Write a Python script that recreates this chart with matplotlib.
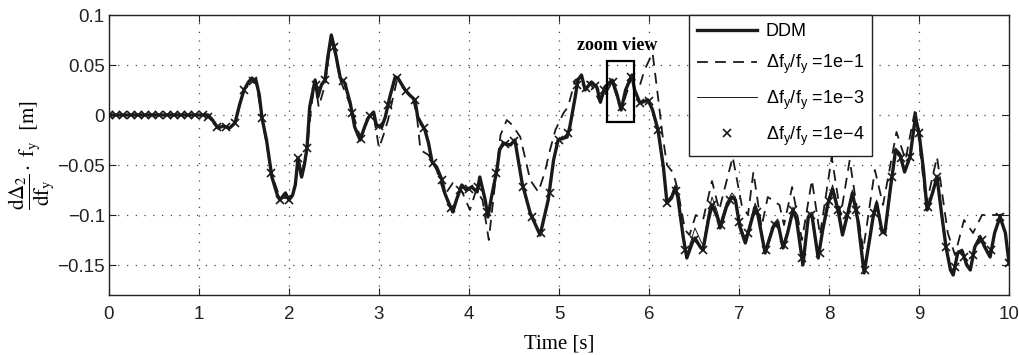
import matplotlib
matplotlib.use("Agg")
import matplotlib.pyplot as plt
from matplotlib.ticker import FuncFormatter
from matplotlib.patches import Rectangle

plt.rcParams['font.family'] = ['Liberation Sans', 'DejaVu Sans']
plt.rcParams['mathtext.fontset'] = 'custom'
plt.rcParams['mathtext.rm'] = 'Liberation Sans'
plt.rcParams['mathtext.it'] = 'Liberation Sans'

# ---- data ----
ddm_t = [0.0, 1.1, 1.15, 1.21, 1.27, 1.34, 1.4, 1.45, 1.5, 1.55, 1.59, 1.61, 1.63, 1.67, 1.7,
         1.75, 1.81, 1.87, 1.9, 1.96, 2.0, 2.04, 2.07, 2.1, 2.14, 2.17, 2.2, 2.23, 2.29, 2.32,
         2.36, 2.4, 2.43, 2.47, 2.51, 2.57, 2.62, 2.68, 2.73, 2.79, 2.84, 2.88, 2.94, 2.97, 3.03,
         3.07, 3.12, 3.18, 3.21, 3.29, 3.34, 3.4, 3.43, 3.51, 3.55, 3.59, 3.64, 3.7, 3.73, 3.77,
         3.82, 3.86, 3.92, 3.97, 4.03, 4.09, 4.12, 4.18, 4.21, 4.25, 4.31, 4.34, 4.38, 4.46, 4.51,
         4.59, 4.68, 4.79, 4.88, 4.94, 4.99, 5.09, 5.12, 5.18, 5.21, 5.25, 5.29, 5.36, 5.42, 5.46,
         5.51, 5.59, 5.64, 5.69, 5.74, 5.81, 5.84, 5.9, 5.99, 6.04, 6.1, 6.16, 6.2, 6.25, 6.29,
         6.32, 6.38, 6.42, 6.48, 6.51, 6.57, 6.6, 6.66, 6.7, 6.76, 6.79, 6.86, 6.92, 6.96, 7.01,
         7.07, 7.12, 7.18, 7.21, 7.29, 7.38, 7.43, 7.49, 7.54, 7.6, 7.64, 7.71, 7.77, 7.81, 7.88,
         7.93, 7.99, 8.04, 8.1, 8.15, 8.21, 8.26, 8.32, 8.39, 8.45, 8.49, 8.53, 8.59, 8.62, 8.68,
         8.74, 8.79, 8.84, 8.9, 8.96, 9.0, 9.05, 9.09, 9.15, 9.2, 9.25, 9.3, 9.35, 9.38, 9.43,
         9.48, 9.53, 9.57, 9.62, 9.68, 9.73, 9.79, 9.84, 9.9, 9.96, 10.0]
ddm_v = [0.0, 0.0, -0.005, -0.013, -0.011, -0.013, -0.008, 0.01, 0.025, 0.033, 0.037, 0.033, 0.036, 0.02, -0.003,
         -0.025, -0.062, -0.08, -0.085, -0.078, -0.085, -0.08, -0.07, -0.043, -0.062, -0.05, -0.033, 0.008, 0.035, 0.018,
         0.03, 0.035, 0.057, 0.08, 0.065, 0.037, 0.032, 0.012, -0.012, -0.025, -0.012, -0.003, 0.003, -0.01, -0.012,
         -0.002, 0.018, 0.038, 0.037, 0.025, 0.02, 0.015, -0.002, -0.015, -0.028, -0.047, -0.052, -0.065, -0.078, -0.087,
         -0.097, -0.085, -0.07, -0.075, -0.072, -0.077, -0.062, -0.085, -0.102, -0.082, -0.055, -0.035, -0.028, -0.03, -0.025,
         -0.068, -0.098, -0.12, -0.085, -0.045, -0.025, -0.022, -0.012, 0.018, 0.035, 0.04, 0.025, 0.033, 0.028, 0.013,
         0.028, 0.035, 0.022, 0.005, 0.025, 0.04, 0.025, 0.012, 0.015, 0.005, -0.015, -0.052, -0.088, -0.083, -0.073,
         -0.082, -0.122, -0.143, -0.128, -0.123, -0.132, -0.135, -0.105, -0.09, -0.102, -0.113, -0.092, -0.082, -0.085, -0.112,
         -0.128, -0.112, -0.092, -0.1, -0.138, -0.112, -0.107, -0.133, -0.118, -0.095, -0.105, -0.15, -0.102, -0.1, -0.143,
         -0.115, -0.088, -0.074, -0.095, -0.12, -0.098, -0.078, -0.105, -0.158, -0.125, -0.102, -0.088, -0.117, -0.118, -0.075,
         -0.035, -0.04, -0.057, -0.042, -0.002, -0.018, -0.055, -0.095, -0.078, -0.062, -0.098, -0.132, -0.155, -0.16, -0.138,
         -0.136, -0.15, -0.155, -0.132, -0.122, -0.132, -0.142, -0.118, -0.102, -0.118, -0.148]

# thin line (1e-3): follows DDM closely, slightly higher in places
thin_v = [0.0, 0.0, -0.005, -0.012, -0.011, -0.012, -0.008, 0.01, 0.025, 0.033, 0.037, 0.033, 0.036, 0.02, -0.003,
          -0.024, -0.06, -0.079, -0.084, -0.077, -0.084, -0.079, -0.07, -0.044, -0.063, -0.05, -0.033, 0.008, 0.035, 0.018,
          0.03, 0.035, 0.057, 0.079, 0.065, 0.037, 0.032, 0.012, -0.012, -0.025, -0.012, -0.003, 0.003, -0.01, -0.012,
          -0.002, 0.018, 0.038, 0.037, 0.025, 0.02, 0.015, -0.002, -0.015, -0.028, -0.047, -0.052, -0.065, -0.078, -0.087,
          -0.096, -0.084, -0.07, -0.075, -0.072, -0.077, -0.062, -0.085, -0.101, -0.082, -0.055, -0.035, -0.028, -0.03, -0.025,
          -0.068, -0.098, -0.119, -0.085, -0.045, -0.025, -0.022, -0.012, 0.018, 0.035, 0.04, 0.025, 0.033, 0.028, 0.013,
          0.028, 0.035, 0.022, 0.005, 0.025, 0.04, 0.025, 0.012, 0.015, 0.005, -0.015, -0.052, -0.086, -0.08, -0.07,
          -0.08, -0.118, -0.14, -0.122, -0.113, -0.125, -0.13, -0.098, -0.082, -0.097, -0.108, -0.088, -0.078, -0.082, -0.108,
          -0.124, -0.108, -0.088, -0.097, -0.134, -0.109, -0.104, -0.13, -0.115, -0.092, -0.102, -0.146, -0.099, -0.097, -0.14,
          -0.112, -0.084, -0.07, -0.092, -0.117, -0.095, -0.075, -0.102, -0.155, -0.122, -0.099, -0.085, -0.114, -0.115, -0.072,
          -0.033, -0.038, -0.055, -0.04, -0.002, -0.018, -0.055, -0.093, -0.076, -0.06, -0.096, -0.13, -0.153, -0.158, -0.136,
          -0.134, -0.148, -0.153, -0.13, -0.12, -0.13, -0.14, -0.116, -0.1, -0.116, -0.146]

dash_t = [0.0, 1.1, 1.2, 1.34, 1.4, 1.5, 1.59, 1.63, 1.7, 1.81, 1.9, 2.0, 2.07, 2.1, 2.14, 2.2,
          2.25, 2.29, 2.33, 2.4, 2.47, 2.57, 2.68, 2.79, 2.88, 2.94, 3.0, 3.05, 3.1, 3.2, 3.3,
          3.38, 3.42, 3.46, 3.55, 3.64, 3.73, 3.82, 3.9, 4.01, 4.08, 4.15, 4.22, 4.3, 4.35, 4.42,
          4.48, 4.57, 4.68, 4.77, 4.84, 4.9, 4.96, 5.05, 5.1, 5.18, 5.25, 5.36, 5.46, 5.59, 5.69,
          5.81, 5.9, 5.95, 6.04, 6.1, 6.15, 6.2, 6.27, 6.32, 6.4, 6.45, 6.52, 6.6, 6.7, 6.78,
          6.93, 7.03, 7.1, 7.16, 7.25, 7.32, 7.45, 7.5, 7.59, 7.7, 7.81, 7.9, 8.03, 8.13, 8.23,
          8.38, 8.51, 8.6, 8.75, 8.85, 8.96, 9.08, 9.2, 9.32, 9.4, 9.5, 9.6, 9.7, 9.8, 9.9,
          9.97, 10.0]
dash_v = [0.0, 0.0, -0.012, -0.012, -0.008, 0.025, 0.036, 0.035, -0.003, -0.06, -0.083, -0.083, -0.07, -0.045, -0.065, -0.035,
          0.01, 0.033, 0.008, 0.03, 0.078, 0.035, 0.01, -0.022, -0.002, 0.0, -0.033, -0.02, -0.005, 0.035, 0.025,
          0.015, 0.0, -0.035, -0.04, -0.055, -0.08, -0.068, -0.072, -0.095, -0.075, -0.085, -0.125, -0.06, -0.02, -0.005,
          -0.01, -0.022, -0.065, -0.077, -0.058, -0.035, -0.015, 0.002, 0.008, 0.035, 0.038, 0.03, 0.012, 0.033, 0.005,
          0.038, 0.03, 0.045, 0.062, 0.018, -0.02, -0.05, -0.058, -0.075, -0.115, -0.12, -0.1, -0.105, -0.066, -0.095,
          -0.042, -0.09, -0.1, -0.057, -0.112, -0.082, -0.09, -0.11, -0.072, -0.125, -0.065, -0.12, -0.042, -0.1, -0.045,
          -0.135, -0.055, -0.09, -0.017, -0.045, 0.007, -0.09, -0.042, -0.118, -0.14, -0.105, -0.118, -0.1, -0.1, -0.1,
          -0.098, -0.1]

mark_t = [0.0, 0.08, 0.16, 0.24, 0.32, 0.4, 0.48, 0.56, 0.64, 0.72, 0.8, 0.88, 0.96, 1.04,
          1.1, 1.2, 1.3, 1.4, 1.5, 1.6, 1.7, 1.8, 1.9, 2.0, 2.1, 2.2, 2.3, 2.4, 2.5, 2.6, 2.7,
          2.8, 2.9, 3.0, 3.1, 3.2, 3.3, 3.4, 3.5, 3.6, 3.7, 3.8, 3.9, 4.0, 4.1, 4.2, 4.3, 4.4,
          4.5, 4.6, 4.7, 4.8, 4.9, 5.0, 5.1, 5.2, 5.3, 5.4, 5.5, 5.6, 5.7, 5.8, 5.9, 6.0, 6.1,
          6.2, 6.3, 6.4, 6.5, 6.6, 6.7, 6.8, 6.9, 7.0, 7.1, 7.2, 7.3, 7.4, 7.5, 7.6, 7.7, 7.8,
          7.9, 8.0, 8.1, 8.2, 8.3, 8.4, 8.5, 8.6, 8.7, 8.8, 8.9, 9.0, 9.1, 9.2, 9.3, 9.4, 9.5,
          9.6, 9.7, 9.8, 9.9, 10.0]
mark_v = [0.0, 0.0, 0.0, 0.0, 0.0, 0.0, 0.0, 0.0, 0.0, 0.0, 0.0, 0.0, 0.0, 0.0,
          -0.002, -0.012, -0.012, -0.008, 0.025, 0.034, -0.003, -0.058, -0.085, -0.085, -0.043, -0.033, 0.03, 0.035, 0.068, 0.034, 0.002,
          -0.024, -0.001, -0.011, 0.01, 0.037, 0.024, 0.015, -0.013, -0.048, -0.065, -0.093, -0.075, -0.074, -0.072, -0.097, -0.058, -0.029,
          -0.026, -0.072, -0.102, -0.118, -0.078, -0.025, -0.018, 0.03, 0.027, 0.029, 0.025, 0.033, 0.008, 0.038, 0.012, 0.014, -0.015,
          -0.088, -0.076, -0.135, -0.125, -0.135, -0.09, -0.11, -0.085, -0.107, -0.118, -0.097, -0.135, -0.11, -0.13, -0.095, -0.143, -0.1,
          -0.138, -0.086, -0.095, -0.1, -0.095, -0.155, -0.098, -0.117, -0.062, -0.043, -0.042, -0.018, -0.092, -0.062, -0.132, -0.152, -0.142,
          -0.14, -0.125, -0.135, -0.102, -0.148]

labels = ['DDM',
          r'$\mathregular{\Delta f_y/f_y}$ =1e$\mathregular{-}$1',
          r'$\mathregular{\Delta f_y/f_y}$ =1e$\mathregular{-}$3',
          r'$\mathregular{\Delta f_y/f_y}$ =1e$\mathregular{-}$4']
x_ticks = [0, 1, 2, 3, 4, 5, 6, 7, 8, 9, 10]
y_ticks = [-0.15, -0.1, -0.05, 0, 0.05, 0.1]

# ---- figure ----
fig = plt.figure(figsize=(10.19, 3.55), dpi=100)
ax = fig.add_axes([109/1019, 1 - 295/355, 900/1019, 280/355])

ax.plot(ddm_t, ddm_v, color='#1a1a1a', lw=2.4, label=labels[0], zorder=3)
ax.plot(dash_t, dash_v, color='#1a1a1a', lw=1.3, ls=(0, (6, 4)), label=labels[1], zorder=4)
ax.plot(ddm_t, thin_v, color='#1a1a1a', lw=0.7, label=labels[2], zorder=4)
ax.plot(mark_t, mark_v, ls='none', marker='x', ms=6, mew=1.2, color='#1a1a1a', label=labels[3], zorder=5)

ax.set_xlim(0, 10)
ax.set_ylim(-0.18, 0.1)
ax.set_xticks(x_ticks)
ax.set_yticks(y_ticks)
ax.yaxis.set_major_formatter(FuncFormatter(lambda v, p: ('%g' % v).replace('-', '\u2212')))
ax.tick_params(direction='in', top=True, right=True, labelsize=13.5, length=5, width=0.8,
               colors='#222222')
ax.tick_params(axis='x', pad=8)
ax.tick_params(axis='y', pad=3)
ax.grid(True, ls=(0, (1, 6)), lw=0.9, color='#444444')
for s in ax.spines.values():
    s.set_color('#222222')
    s.set_linewidth(1.0)

ax.set_xlabel('Time [s]', family='Liberation Serif', fontsize=15, labelpad=8)
ax.set_ylabel(r'$\dfrac{\mathrm{d}\Delta_2}{\mathrm{d}\mathrm{f}_\mathrm{y}}\cdot\ \mathrm{f}_\mathrm{y}\ \ [\mathrm{m}]$',
              fontsize=15, math_fontfamily='stix', va='center')
ax.yaxis.set_label_coords(-0.086, 0.5)

ax.text(5.65, 0.07, 'zoom view', family='Liberation Serif', fontweight='bold', fontsize=13,
        ha='center', va='center')
ax.add_patch(Rectangle((5.53, -0.007), 0.3, 0.061, fill=False, ec='black', lw=1.6, zorder=6))

leg = ax.legend(loc='upper right', bbox_to_anchor=(0.848, 1.0), fontsize=13, frameon=True,
                fancybox=False, edgecolor='#222222', framealpha=1, handlelength=3.3,
                labelspacing=0.7, borderpad=0.45, handletextpad=0.5, borderaxespad=0)
leg.get_frame().set_linewidth(1.0)
leg.set_zorder(10)

fig.savefig('out.png', dpi=100)
